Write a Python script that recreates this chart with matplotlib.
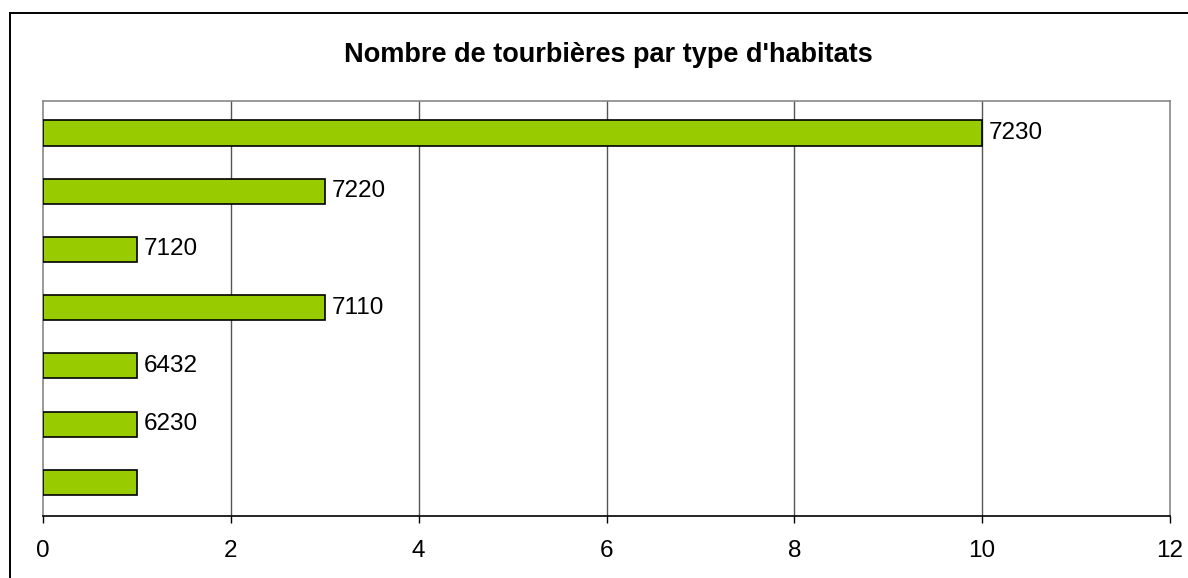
import matplotlib
matplotlib.use("Agg")
import matplotlib.pyplot as plt
from matplotlib.lines import Line2D

# Data (bottom to top)
habitats = ["", "6230", "6432", "7110", "7120", "7220", "7230"]
counts = [1, 1, 1, 3, 1, 3, 10]

plt.rcParams["font.family"] = ["Liberation Sans", "DejaVu Sans"]

fig = plt.figure(figsize=(11.88, 5.78), dpi=100)
ax = fig.add_axes([43/1188, 1 - 516/578, (1170 - 43)/1188, (516 - 101)/578])

# outer chart frame (only top/left visible in the image)
W, H = 1188, 578
fig.add_artist(Line2D([10/W, 10/W], [0, 1 - 13/H], color="black", lw=1.4, transform=fig.transFigure))
fig.add_artist(Line2D([10/W, 1], [1 - 13/H, 1 - 13/H], color="black", lw=1.4, transform=fig.transFigure))

pos = range(len(habitats))
ax.barh(pos, counts, height=0.43, color="#99CC00", edgecolor="black", linewidth=1.2, zorder=3)

for y, c, lab in zip(pos, counts, habitats):
    if lab:
        ax.text(c + 0.07, y, lab, va="center", ha="left", fontsize=17.5, zorder=4)

ax.set_xlim(0, 12)
ax.set_ylim(-0.58, 6.55)
ax.set_xticks(range(0, 13, 2))
ax.set_yticks([])
ax.tick_params(axis="x", direction="out", length=5, width=1, labelsize=17.5, pad=12, color="black")

for x in range(2, 12, 2):
    ax.axvline(x, color="#555555", lw=1, zorder=1)

for side in ["top", "right", "left"]:
    ax.spines[side].set_color("#888888")
    ax.spines[side].set_linewidth(1.2)
ax.spines["bottom"].set_color("black")
ax.spines["bottom"].set_linewidth(1.2)

fig.text(608/W, 1 - 55/H, "Nombre de tourbières par type d'habitats",
         ha="center", va="center", fontsize=19.5, fontweight="bold")

fig.savefig("out.png", dpi=100)
